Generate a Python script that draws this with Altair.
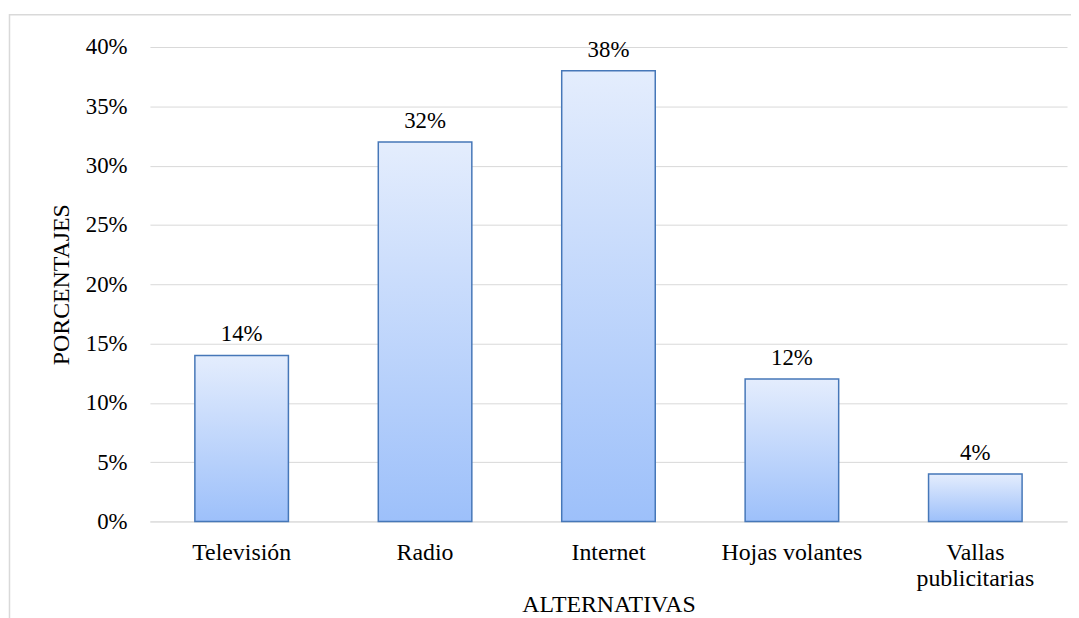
import altair as alt
import pandas as pd

categories = ["Televisión", "Radio", "Internet", "Hojas volantes", "Vallas\npublicitarias"]
values = [0.14, 0.32, 0.38, 0.12, 0.04]
labels = ["14%", "32%", "38%", "12%", "4%"]

df = pd.DataFrame({"cat": categories, "val": values, "lab": labels})

FONT = "Liberation Serif"
FS_NUM = 23
FS_TXT = 24

x = alt.X("cat:N", sort=categories, title="ALTERNATIVAS",
          scale=alt.Scale(paddingInner=0.49, paddingOuter=0.245),
          axis=alt.Axis(labelAngle=0, labelExpr="split(datum.label, '\\n')",
                        labelLineHeight=27, labelPadding=19, ticks=False, tickSize=0,
                        domainColor="#d9d9d9", domainWidth=1, titlePadding=2,
                        labelBaseline="top", labelFontSize=FS_TXT, titleFontSize=FS_TXT))
y = alt.Y("val:Q", title="PORCENTAJES",
          scale=alt.Scale(domain=[0, 0.40]),
          axis=alt.Axis(format=".0%", values=[0, .05, .10, .15, .20, .25, .30, .35, .40],
                        ticks=False, tickSize=0, domain=False, labelPadding=23,
                        gridColor="#d9d9d9", gridWidth=1, titlePadding=12,
                        labelFontSize=FS_NUM, titleFontSize=FS_TXT))

grad = alt.Gradient(gradient="linear",
                    stops=[alt.GradientStop(color="#e4edfd", offset=0),
                           alt.GradientStop(color="#9dc0fa", offset=1)],
                    x1=0, x2=0, y1=0, y2=1)

bars = alt.Chart(df).mark_bar(color=grad, stroke="#4677b8", strokeWidth=1.5).encode(x=x, y=y)
text = alt.Chart(df).mark_text(font=FONT, fontSize=FS_NUM, baseline="alphabetic", dy=-14,
                               color="#000000").encode(x=alt.X("cat:N", sort=categories), y="val:Q", text="lab:N")

border = alt.Chart(alt.Data(values=[{}])).mark_rect(fill=None, stroke="#d9d9d9", strokeWidth=1.5).encode(
    x=alt.value(-141.5), x2=alt.value(940), y=alt.value(-32.5), y2=alt.value(620))

chart = alt.layer(border, bars, text).properties(
    width=924, height=478,
    autosize=alt.AutoSizeParams(type="none"),
    padding={"left": 143, "top": 37, "right": 4, "bottom": 95},
    background="white",
).configure_view(stroke=None).configure_axis(
    labelFont=FONT, titleFont=FONT,
    labelColor="#000000", titleColor="#000000", titleFontWeight="normal",
)

chart.save("out.html", embed_options={"renderer": "svg", "actions": False})
